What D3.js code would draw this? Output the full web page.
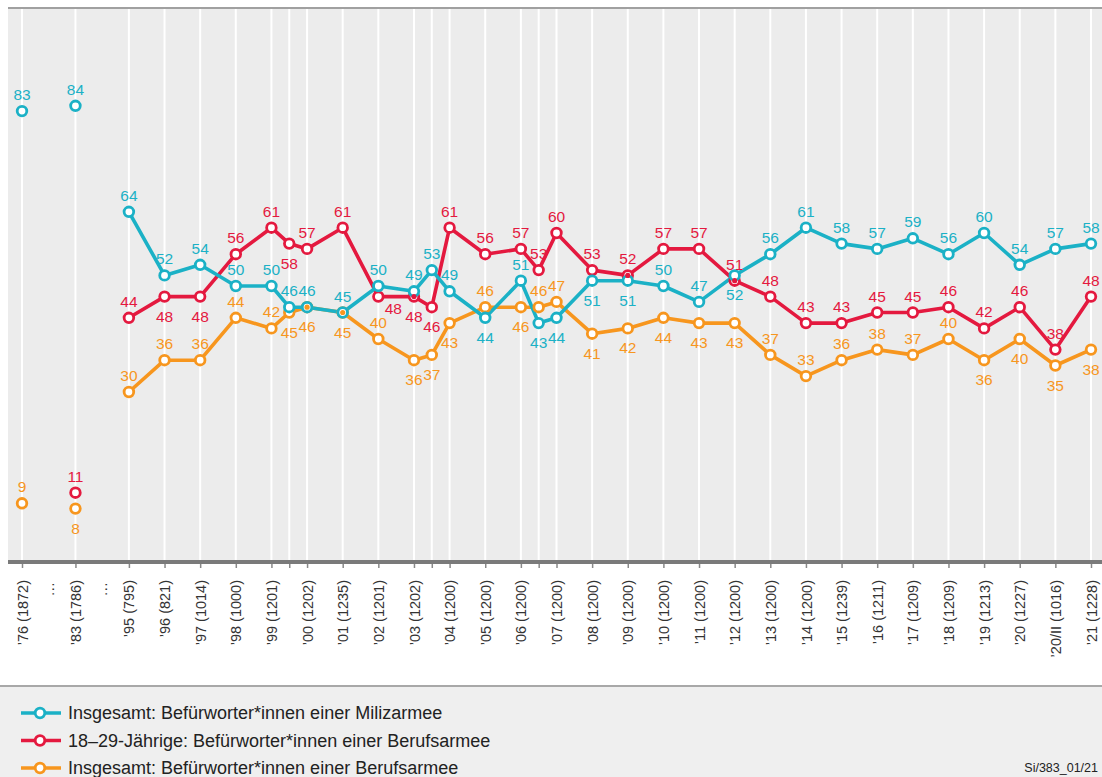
<!DOCTYPE html>
<html>
<head>
<meta charset="utf-8">
<script src="https://cdn.jsdelivr.net/npm/d3@7"></script>
<style>
  html, body { margin: 0; padding: 0; background: #fff; }
  svg { display: block; }
  .lbl { font-family: "Liberation Sans", Arial, sans-serif; font-size: 15.5px; }
  .tick-lbl { font-family: "Liberation Sans", Arial, sans-serif; font-size: 14.5px; fill: #333; }
  .leg { font-family: "Liberation Sans", Arial, sans-serif; font-size: 18px; fill: #222; }
</style>
</head>
<body>
<div id="chart"></div>
<script>
// survey waves (sample size in brackets); "" = extra survey between two years
const categories = ["’76 (1872)", "’83 (1786)", "’95 (795)", "’96 (821)", "’97 (1014)", "’98 (1000)",
  "’99 (1201)", "", "’00 (1202)", "’01 (1235)", "’02 (1201)", "’03 (1202)", "", "’04 (1200)",
  "’05 (1200)", "’06 (1200)", "", "’07 (1200)", "’08 (1200)", "’09 (1200)", "’10 (1200)",
  "’11 (1200)", "’12 (1200)", "’13 (1200)", "’14 (1200)", "’15 (1239)", "’16 (1211)",
  "’17 (1209)", "’18 (1209)", "’19 (1213)", "’20 (1227)", "’20/II (1016)", "’21 (1228)"];
// position on the time axis (years since '95 count 1, the first two waves are compressed)
const positions = [0, 1.5, 3, 4, 5, 6, 7, 7.5, 8, 9, 10, 11, 11.5, 12, 13, 14, 14.5, 15, 16, 17,
  18, 19, 20, 21, 22, 23, 24, 25, 26, 27, 28, 29, 30];
const firstConnected = 2; // the line starts at '95

const miliz = [83, 84, 64, 52, 54, 50, 50, 46, 46, 45, 50, 49, 53, 49, 44, 51, 43, 44, 51, 51,
  50, 47, 52, 56, 61, 58, 57, 59, 56, 60, 54, 57, 58];
const beruf1829 = [null, 11, 44, 48, 48, 56, 61, 58, 57, 61, 48, 48, 46, 61, 56, 57, 53, 60, 53, 52,
  57, 57, 51, 48, 43, 43, 45, 45, 46, 42, 46, 38, 48];
const berufAll = [9, 8, 30, 36, 36, 44, 42, 45, 46, 45, 40, 36, 37, 43, 46, 46, 46, 47, 41, 42,
  44, 43, 43, 37, 33, 36, 38, 37, 40, 36, 40, 35, 38];

// a = label above the point, b = below, r = below and a bit to the right
const milizLabelPos = "aaaaaaaaaaaaaababbbbaabaaaaaaaaaa".split("");
const beruf1829LabelPos = "aaabbaabaarbbaaaaaaaaaaaaaaaaaaaa".split("");
const berufAllLabelPos = "abaaaaabbbabbbabaabbbbbaaaaaabbbb".split("");

const seriesNames = ["Insgesamt: Befürworter*innen einer Milizarmee",
  "18–29-Jährige: Befürworter*innen einer Berufsarmee",
  "Insgesamt: Befürworter*innen einer Berufsarmee"];
const seriesColors = ["#1bb1c6", "#e4193f", "#f7961e"];
const sourceNote = "Si/383_01/21";

const W = 1102, H = 777;
const plot = { left: 8, right: W, top: 8, bottom: 562 };

const svg = d3.select("#chart").append("svg").attr("width", W).attr("height", H);

const x = d3.scaleLinear().domain([0, 30]).range([22, 1091]);
const y = d3.scaleLinear().domain([0, 100]).range([551, 21]);

// plot background
svg.append("rect").attr("x", plot.left).attr("y", plot.top)
  .attr("width", plot.right - plot.left).attr("height", plot.bottom - plot.top)
  .attr("fill", "#ececec");
svg.append("line").attr("x1", plot.left).attr("x2", plot.right)
  .attr("y1", plot.top).attr("y2", plot.top)
  .attr("stroke", "#a0a0a0").attr("stroke-width", 2);

// vertical white grid lines
svg.append("g").selectAll("line").data(positions).join("line")
  .attr("x1", d => x(d)).attr("x2", d => x(d))
  .attr("y1", plot.top + 1).attr("y2", plot.bottom)
  .attr("stroke", "#fff").attr("stroke-width", 2);

// x axis
const xAxis = d3.axisBottom(x).tickValues(positions).tickSize(6)
  .tickFormat((d, i) => categories[i]);
const gx = svg.append("g").attr("transform", `translate(0,${plot.bottom})`).call(xAxis);
gx.select(".domain").remove();
gx.selectAll(".tick line").attr("stroke", "#888").attr("stroke-width", 1.5);
gx.selectAll(".tick text").attr("class", "tick-lbl")
  .attr("transform", "rotate(-90)").attr("text-anchor", "end")
  .attr("x", -18).attr("y", 0).attr("dy", "0.35em");
svg.append("line").attr("x1", plot.left).attr("x2", plot.right)
  .attr("y1", plot.bottom).attr("y2", plot.bottom)
  .attr("stroke", "#7a7a7a").attr("stroke-width", 4);

// "..." marks for the gaps in the time axis
svg.append("g").selectAll("text").data([(positions[0] + positions[1]) / 2, (positions[1] + positions[2]) / 2])
  .join("text").attr("class", "tick-lbl")
  .attr("transform", d => `translate(${x(d)},${plot.bottom + 20}) rotate(-90)`)
  .attr("text-anchor", "end").attr("dy", "0.35em").text("…");

const seriesValues = [miliz, beruf1829, berufAll];
const labelPos = [milizLabelPos, beruf1829LabelPos, berufAllLabelPos];
const series = seriesValues.map((vals, s) => vals.map((v, i) => ({ i, v, p: positions[i], pos: labelPos[s][i] })));

const line = d3.line().defined(d => d.v != null && d.i >= firstConnected)
  .x(d => x(d.p)).y(d => y(d.v));

// draw order bottom to top: orange, red, cyan
const order = [2, 1, 0];
order.forEach(s => {
  svg.append("path").datum(series[s]).attr("d", line)
    .attr("fill", "none").attr("stroke", seriesColors[s])
    .attr("stroke-width", 3.6).attr("stroke-linejoin", "round");
});
order.forEach(s => {
  svg.append("g").selectAll("circle").data(series[s].filter(d => d.v != null)).join("circle")
    .attr("cx", d => x(d.p)).attr("cy", d => y(d.v)).attr("r", 4.8)
    .attr("fill", "#fff").attr("stroke", seriesColors[s]).attr("stroke-width", 2.8);
});
// where a point hides behind a cyan marker, show it as a small dot
[1, 2].forEach(s => {
  svg.append("g").selectAll("circle")
    .data(series[s].filter(d => d.v != null && d.i >= firstConnected && Math.abs(d.v - miliz[d.i]) < 1.5 && d.i !== 7))
    .join("circle")
    .attr("cx", d => x(d.p)).attr("cy", d => y(d.v)).attr("r", 2.6)
    .attr("fill", seriesColors[s]);
});

// value labels
const dxFor = { a: 0, b: 0, r: 15 };
const dyFor = { a: -11, b: 25, r: 17 };
order.forEach(s => {
  svg.append("g").selectAll("text").data(series[s].filter(d => d.v != null)).join("text")
    .attr("class", "lbl").attr("fill", seriesColors[s]).attr("text-anchor", "middle")
    .attr("x", d => x(d.p) + dxFor[d.pos])
    .attr("y", d => y(d.v) + dyFor[d.pos])
    .text(d => d.v);
});

// legend
const legTop = 686;
svg.append("rect").attr("x", 0).attr("y", legTop).attr("width", W).attr("height", H - legTop)
  .attr("fill", "#efefef");
svg.append("line").attr("x1", 0).attr("x2", W).attr("y1", legTop).attr("y2", legTop)
  .attr("stroke", "#a8a8a8").attr("stroke-width", 2);
const leg = svg.append("g").selectAll("g").data(seriesNames).join("g")
  .attr("transform", (d, i) => `translate(0,${713 + i * 27.5})`);
leg.append("line").attr("x1", 21).attr("x2", 61).attr("y1", 0).attr("y2", 0)
  .attr("stroke", (d, i) => seriesColors[i]).attr("stroke-width", 3.6);
leg.append("circle").attr("cx", 40).attr("cy", 0).attr("r", 4.8)
  .attr("fill", "#fff").attr("stroke", (d, i) => seriesColors[i]).attr("stroke-width", 2.8);
leg.append("text").attr("class", "leg").attr("x", 68).attr("dy", "0.35em").text(d => d);
svg.append("text").attr("class", "leg").style("font-size", "12.5px")
  .attr("x", 1098).attr("y", 768).attr("dy", "0.35em").attr("text-anchor", "end").text(sourceNote);
</script>
</body>
</html>
